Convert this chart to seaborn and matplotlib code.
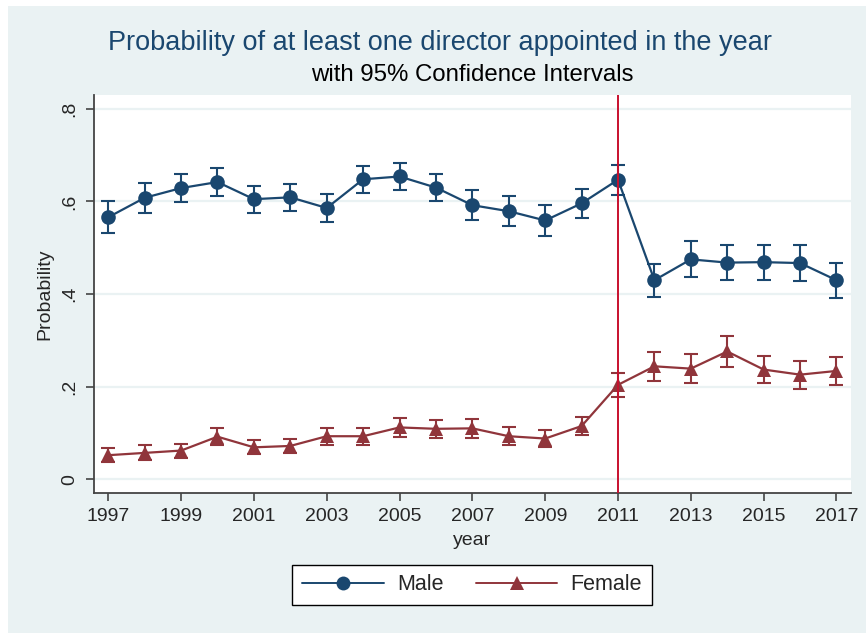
import numpy as np
import pandas as pd
import seaborn as sns
import matplotlib.pyplot as plt
from matplotlib.patches import Rectangle
from matplotlib.lines import Line2D

years = list(range(1997, 2018))

male_prob = [0.566, 0.608, 0.629, 0.642, 0.605, 0.609, 0.586, 0.648, 0.654, 0.630,
             0.592, 0.579, 0.559, 0.596, 0.647, 0.430, 0.475, 0.468, 0.469, 0.467, 0.430]
male_half = [0.035, 0.033, 0.031, 0.031, 0.029, 0.029, 0.031, 0.029, 0.029, 0.030,
             0.032, 0.032, 0.033, 0.032, 0.032, 0.036, 0.039, 0.038, 0.038, 0.038, 0.038]

female_prob = [0.052, 0.057, 0.062, 0.092, 0.069, 0.072, 0.093, 0.093, 0.112, 0.109,
               0.110, 0.093, 0.088, 0.115, 0.204, 0.244, 0.239, 0.276, 0.237, 0.226, 0.234]
female_half = [0.015, 0.016, 0.015, 0.018, 0.015, 0.016, 0.018, 0.018, 0.020, 0.020,
               0.020, 0.019, 0.019, 0.020, 0.026, 0.031, 0.032, 0.033, 0.030, 0.030, 0.031]

policy_year = 2011

BG = "#EAF2F3"
NAVY = "#1A476F"
MAROON = "#90353B"
VLINE = "#C8102E"

df = pd.concat([
    pd.DataFrame({"year": years, "prob": male_prob, "half": male_half, "sex": "Male"}),
    pd.DataFrame({"year": years, "prob": female_prob, "half": female_half, "sex": "Female"}),
])

sns.set_style("white")
plt.rcParams["font.family"] = ["Liberation Sans", "DejaVu Sans"]

fig = plt.figure(figsize=(8.66, 6.33), dpi=100)
fig.patch.set_facecolor("white")
fig.patches.append(Rectangle((8 / 866, 0), 1, 1 - 6 / 633, transform=fig.transFigure,
                             facecolor=BG, edgecolor="none", zorder=-10))

ax = fig.add_axes([0.1082, 0.2212, 0.8741, 0.6287])
ax.set_facecolor("white")

for y in [0, 0.2, 0.4, 0.6, 0.8]:
    ax.axhline(y, color=BG, lw=1.6, zorder=0)

colors = {"Male": NAVY, "Female": MAROON}
markers = {"Male": "o", "Female": "^"}

# intervalos de confianza ya calculados
for sex in ["Male", "Female"]:
    d = df[df["sex"] == sex]
    ax.errorbar(d["year"], d["prob"], yerr=d["half"], fmt="none", ecolor=colors[sex],
                elinewidth=1.5, capsize=5, capthick=1.5, zorder=2)

sns.lineplot(data=df, x="year", y="prob", hue="sex", style="sex",
             palette=colors, markers=markers, dashes=False, markersize=10.5,
             markeredgewidth=0, linewidth=1.6, legend=False, ax=ax, zorder=3)

ax.axvline(policy_year, color=VLINE, lw=1.4, zorder=4)

ax.set_xlim(1996.6, 2017.39)
ax.set_ylim(-0.0296, 0.830)
ax.set_xticks(range(1997, 2018, 2))
ax.set_yticks([0, 0.2, 0.4, 0.6, 0.8])
ax.set_yticklabels(["0", ".2", ".4", ".6", ".8"], rotation=90, va="center")
ax.tick_params(axis="both", direction="out", length=6, width=1.2, color="#444444",
               labelsize=14, pad=5, left=True, bottom=True)
for s in ["top", "right"]:
    ax.spines[s].set_visible(False)
for s in ["left", "bottom"]:
    ax.spines[s].set_color("#444444")
    ax.spines[s].set_linewidth(1.3)

ax.set_xlabel("year", fontsize=14, labelpad=5)
ax.set_ylabel("Probability", fontsize=14, labelpad=6)

fig.text(440 / 866, 1 - 43 / 633, "Probability of at least one director appointed in the year",
         ha="center", va="center", fontsize=19.5, color=NAVY)
fig.text(472 / 866, 1 - 75 / 633, "with 95% Confidence Intervals",
         ha="center", va="center", fontsize=17.3, color="black")

handles = [
    Line2D([], [], color=NAVY, marker="o", markersize=10, lw=1.4, markeredgewidth=0),
    Line2D([], [], color=MAROON, marker="^", markersize=10, lw=1.4, markeredgewidth=0),
]
leg = fig.legend(handles, ["Male", "Female"], loc="center", ncol=2,
                 bbox_to_anchor=(472 / 866, 1 - 585 / 633), fontsize=15.5,
                 frameon=True, fancybox=False, edgecolor="black", framealpha=1,
                 handlelength=3.8, columnspacing=1.5, handletextpad=0.6,
                 borderpad=0.45, borderaxespad=0)
leg.get_frame().set_linewidth(1.0)

fig.savefig("out.png", dpi=100, facecolor=fig.get_facecolor())
